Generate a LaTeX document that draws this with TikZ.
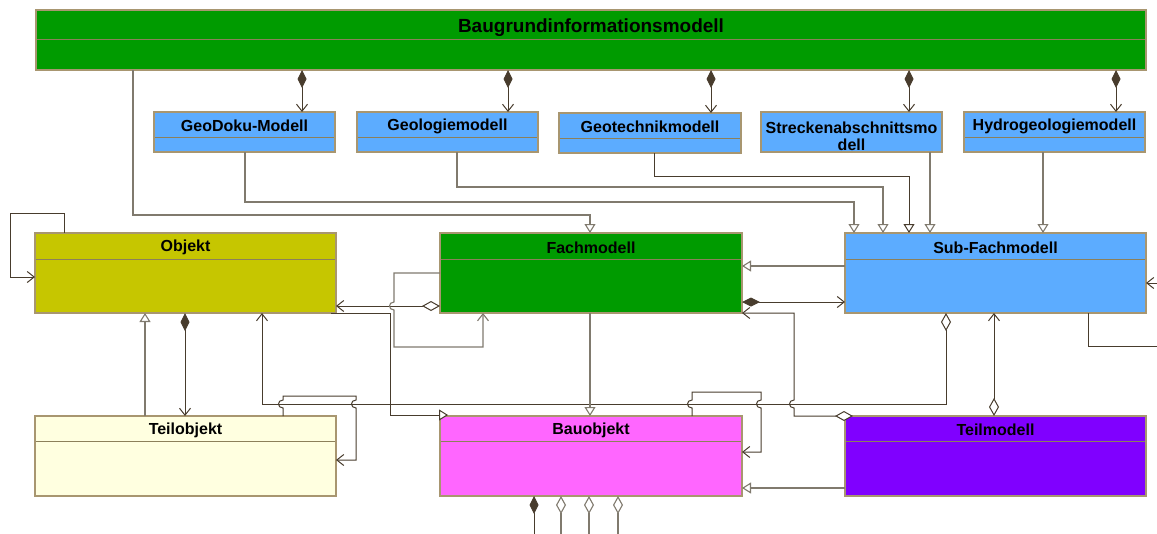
\documentclass[tikz,border=0pt]{standalone}
\usepackage{fontspec}
\setmainfont{Liberation Sans}
\usetikzlibrary{arrows.meta,calc}

\definecolor{bgreen}{RGB}{0,155,0}
\definecolor{bblue}{RGB}{92,172,255}
\definecolor{bolive}{RGB}{198,198,0}
\definecolor{bcream}{RGB}{255,255,224}
\definecolor{bmagenta}{RGB}{255,102,255}
\definecolor{bviolet}{RGB}{128,0,255}
\definecolor{bborder}{RGB}{168,150,112}
\definecolor{bdivider}{RGB}{140,128,90}
\definecolor{ldark}{RGB}{72,60,45}
\definecolor{lgray}{RGB}{128,122,110}

\tikzset{
  umlbox/.style={draw=bborder, line width=1.2pt, rectangle, inner sep=0pt, outer sep=0pt, anchor=north west},
  divider/.style={draw=bdivider, line width=1pt},
  boxtitle/.style={font=\bfseries\fontsize{16}{17}\selectfont, inner sep=0pt, align=center, yshift=-1.5pt},
  dk/.style={draw=ldark, line width=1pt},
  gr/.style={draw=lgray, line width=1.1pt},
  UNav/.tip={Straight Barb[length=7pt,width=11pt]},
  UGen/.tip={Triangle[length=9pt,width=11pt,fill=white]},
  UComp/.tip={Diamond[length=18pt,width=9pt]},
  UAgg/.tip={Diamond[length=18pt,width=10pt,fill=white]},
}

% class box: name, x, y, width, height, header height, fill, title
\newcommand\umlclass[8]{%
  \node[umlbox, fill=#7, minimum width=#4pt, minimum height=#5pt] (#1) at (#2,#3) {};
  \draw[divider] ($(#1.north west)+(0.6,#6)$) -- ($(#1.north east)+(-0.6,#6)$);
  \node[boxtitle] (#1-title) at ($(#1.north)+(0,#6/2)$) {#8};
}

\begin{document}
\begin{tikzpicture}[x=1pt, y=-1pt]
\useasboundingbox (0,0) rectangle (1157,533);
\clip (0,0) rectangle (1157,533);

% classes
\node[umlbox, fill=bgreen, minimum width=1110pt, minimum height=60pt] (baug) at (36,10) {};
\draw[divider] ($(baug.north west)+(0.6,29)$) -- ($(baug.north east)+(-0.6,29)$);
\node[boxtitle, font=\bfseries\fontsize{19}{21}\selectfont, yshift=-1.5pt] (baug-title) at ($(baug.north)+(0,14.5)$) {Baugrundinformationsmodell};

\umlclass{geodoku}{154}{112}{181}{40}{25}{bblue}{GeoDoku-Modell}
\umlclass{geologie}{357}{112}{181}{40}{25}{bblue}{Geologiemodell}
\umlclass{geotech}{559}{113}{182}{40}{25}{bblue}{Geotechnikmodell}
\node[umlbox, fill=bblue, minimum width=181pt, minimum height=40pt] (strecken) at (761,112) {};
\node[boxtitle] (strecken-title) at ($(strecken.center)+(0,2.5)$) {Streckenabschnittsmo\\dell};
\umlclass{hydro}{964}{112}{181}{40}{25}{bblue}{Hydrogeologiemodell}

\umlclass{objekt}{35}{233}{301}{80}{26}{bolive}{Objekt}
\umlclass{fach}{440}{233}{302}{80}{26}{bgreen}{Fachmodell}
\umlclass{subfach}{845}{233}{301}{80}{26}{bblue}{Sub-Fachmodell}
\umlclass{teilobj}{35}{416}{301}{80}{25}{bcream}{Teilobjekt}
\umlclass{bauobj}{440}{416}{302}{80}{25}{bmagenta}{Bauobjekt}
\umlclass{teilmod}{845}{416}{301}{80}{25}{bviolet}{Teilmodell}

% loose ends leaving the drawing area
\coordinate (outR1) at (1175,346);
\coordinate (outR2) at (1175,283);
\coordinate (outB1) at (534,545);
\coordinate (outB2) at (561,545);
\coordinate (outB3) at (589,545);
\coordinate (outB4) at (618,545);

% compositions of the ground model
\foreach \xx/\nn in {302/geodoku,508/geologie,711/geotech,909/strecken,1116/hydro}
  \draw[dk,UComp-UNav] (\xx,0 |- baug.south) -- (\xx,0 |- \nn.north);

% generalisations towards Fachmodell / Sub-Fachmodell
\draw[gr,-UGen] (133,0 |- baug.south) -- (133,215) -| (590,0 |- fach.north);
\draw[gr,-UGen] (245,0 |- geodoku.south) -- (245,202) -| (854,0 |- subfach.north);
\draw[gr,-UGen] (457,0 |- geologie.south) -- (457,187) -| (883,0 |- subfach.north);
\draw[dk,-UGen] (654,0 |- geotech.south) -- (654,176) -| (909,0 |- subfach.north);
\draw[gr,-UGen] (930,0 |- strecken.south) -- (930,0 |- subfach.north);
\draw[gr,-UGen] (1043,0 |- hydro.south) -- (1043,0 |- subfach.north);

% Objekt
\draw[dk,-UNav] (64,0 |- objekt.north) |- (10,213) |- (objekt.west |- 0,277);
\draw[dk,UAgg-UNav] (fach.west |- 0,306) -- (objekt.east |- 0,306);
\draw[gr,-UNav] (fach.west |- 0,273) -- (394,273) -- (394,302)
  .. controls (388,302) and (388,310) .. (394,310) -- (394,347) -| (483,0 |- fach.south);
\draw[dk,-UGen] (331,0 |- objekt.south) -- (390,0 |- objekt.south) -- (390,415) -- (448,415);
\draw[gr,-UGen] (145,0 |- teilobj.north) -- (145,0 |- objekt.south);
\draw[dk,UComp-UNav] (185,0 |- objekt.south) -- (185,0 |- teilobj.north);
\draw[dk,UAgg-UNav] (946,0 |- subfach.south) -- (946,404) -- (262,404) -- (262,0 |- objekt.south);

% Teilobjekt self association
\draw[dk,-UNav] (283,0 |- teilobj.north) -- (283,408)
  .. controls (277,408) and (277,400) .. (283,400) -- (283,396) -- (356,396) -- (356,400)
  .. controls (350,400) and (350,408) .. (356,408) -- (356,460) -- (teilobj.east |- 0,460);

% Bauobjekt
\draw[dk,-UNav] (692,0 |- bauobj.north) -- (692,408)
  .. controls (686,408) and (686,400) .. (692,400) -- (692,392) -- (761,392) -- (761,400)
  .. controls (755,400) and (755,408) .. (761,408) -- (761,452) -- (bauobj.east |- 0,452);
\draw[gr,-UGen] (590,0 |- fach.south) -- (590,0 |- bauobj.north);

% Fachmodell / Sub-Fachmodell
\draw[gr,-UGen] (subfach.west |- 0,266) -- (fach.east |- 0,266);
\draw[dk,UComp-UNav] (fach.east |- 0,302) -- (subfach.west |- 0,302);
\draw[dk,-UNav] (1088,0 |- subfach.south) -- (1088,346) -- (outR1) -- (outR2) -- (subfach.east |- 0,283);

% Teilmodell
\draw[dk,UAgg-UNav] (853,0 |- teilmod.north) -- (794,0 |- teilmod.north) -- (794,408)
  .. controls (788,408) and (788,400) .. (794,400) -- (794,0 |- fach.south) -- (fach.south east);
\draw[dk,UAgg-UNav] (994,0 |- teilmod.north) -- (994,0 |- subfach.south);
\draw[gr,-UGen] (teilmod.west |- 0,488) -- (bauobj.east |- 0,488);

% associations below Bauobjekt
\draw[dk,UComp-] (534,0 |- bauobj.south) -- (outB1);
\draw[gr,UAgg-] (561,0 |- bauobj.south) -- (outB2);
\draw[gr,UAgg-] (589,0 |- bauobj.south) -- (outB3);
\draw[gr,UAgg-] (618,0 |- bauobj.south) -- (outB4);
\end{tikzpicture}
\end{document}
